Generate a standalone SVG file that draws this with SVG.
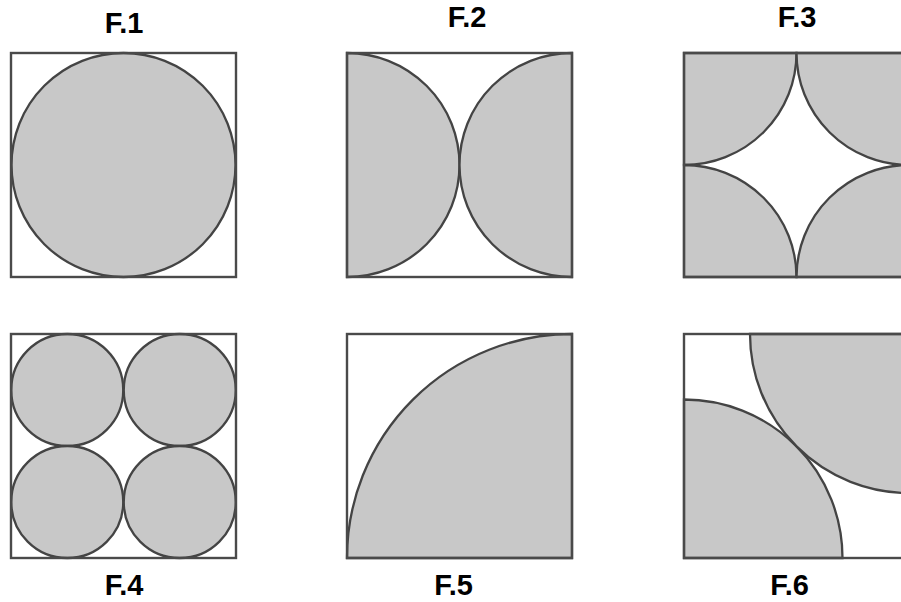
<svg xmlns="http://www.w3.org/2000/svg" width="901" height="602" viewBox="0 0 901 602">
<style>
.bg{fill:#ffffff}
.box{fill:none;stroke:#4a4a4a;stroke-width:2.4}
.sh{fill:#c8c8c8;stroke:#444444;stroke-width:2.3}
.lbl{font-family:"Liberation Sans",Arial,sans-serif;font-weight:bold;font-size:29px;fill:#000;text-anchor:middle}
</style>
<rect class="bg" x="0" y="0" width="901" height="602"/>
<g id="f1">
<circle class="sh" cx="123.5" cy="165" r="112"/>
<rect class="box" x="11" y="53" width="225" height="224"/>
<text class="lbl" x="124" y="33">F.1</text>
</g>
<g id="f2">
<path class="sh" d="M347,53 A112.5,112 0 0 1 347,277 Z"/>
<path class="sh" d="M572,53 A112.5,112 0 0 0 572,277 Z"/>
<rect class="box" x="347" y="53" width="225" height="224"/>
<text class="lbl" x="467" y="27">F.2</text>
</g>
<g id="f3">
<path class="sh" d="M684,53 L796.5,53 A112.5,112 0 0 1 684,165 Z"/>
<path class="sh" d="M909,53 L796.5,53 A112.5,112 0 0 0 909,165 Z"/>
<path class="sh" d="M684,277 L796.5,277 A112.5,112 0 0 0 684,165 Z"/>
<path class="sh" d="M909,277 L796.5,277 A112.5,112 0 0 1 909,165 Z"/>
<rect class="box" x="684" y="53" width="225" height="224"/>
<text class="lbl" x="797" y="27">F.3</text>
</g>
<g id="f4">
<circle class="sh" cx="67.25" cy="390" r="56"/>
<circle class="sh" cx="179.75" cy="390" r="56"/>
<circle class="sh" cx="67.25" cy="502" r="56"/>
<circle class="sh" cx="179.75" cy="502" r="56"/>
<rect class="box" x="11" y="334" width="225" height="224"/>
<text class="lbl" x="124" y="595">F.4</text>
</g>
<g id="f5">
<path class="sh" d="M347,558 A225,224 0 0 1 572,334 L572,558 Z"/>
<rect class="box" x="347" y="334" width="225" height="224"/>
<text class="lbl" x="453.5" y="595">F.5</text>
</g>
<g id="f6">
<path class="sh" d="M684,399.5 A158.5,158.5 0 0 1 842.5,558 L684,558 Z"/>
<path class="sh" d="M750,334 A159,159 0 0 0 909,493 L909,334 Z"/>
<rect class="box" x="684" y="334" width="225" height="224"/>
<text class="lbl" x="789.5" y="595">F.6</text>
</g>
</svg>
